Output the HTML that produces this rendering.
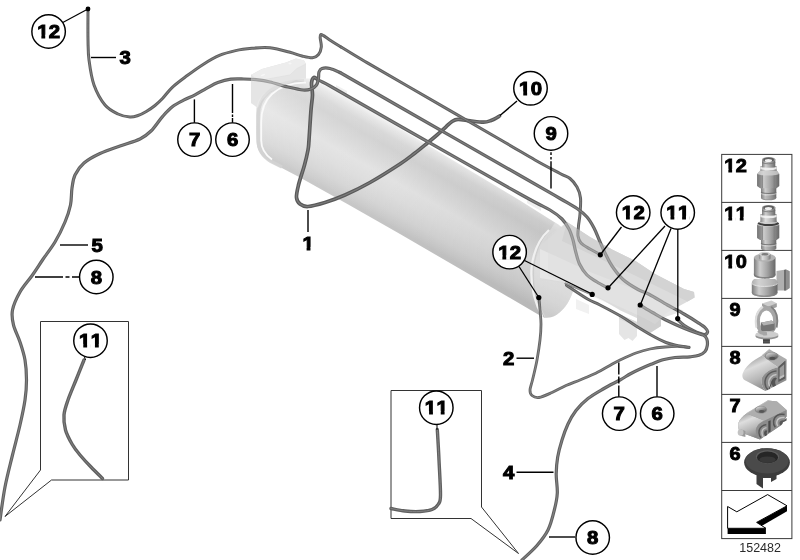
<!DOCTYPE html>
<html lang="en"><head><meta charset="utf-8"><title>152482</title>
<style>
html,body{margin:0;padding:0;background:#fff;}
body{width:800px;height:560px;overflow:hidden;font-family:"Liberation Sans",sans-serif;}
svg{display:block;filter:grayscale(1);}
.cb{font-family:"Liberation Sans",sans-serif;font-weight:700;font-size:18.5px;fill:#000;stroke:#000;stroke-width:1px;letter-spacing:0.3px;font-kerning:none;}
.lg{font-family:"Liberation Sans",sans-serif;font-weight:700;font-size:18.5px;fill:#000;stroke:#000;stroke-width:0.9px;letter-spacing:0.3px;font-kerning:none;}
.num{font-family:"Liberation Sans",sans-serif;font-size:12.5px;fill:#2a2a2a;}
</style></head><body>
<svg width="800" height="560" viewBox="0 0 800 560">
<g>
<defs>
<linearGradient id="gTank" gradientUnits="userSpaceOnUse" x1="400" y1="128" x2="356" y2="206">
<stop offset="0" stop-color="#f2f2f2"/>
<stop offset="0.05" stop-color="#e6e6e6"/>
<stop offset="0.14" stop-color="#d7d7d7"/>
<stop offset="0.25" stop-color="#d1d1d1"/>
<stop offset="0.42" stop-color="#dadada"/>
<stop offset="0.55" stop-color="#e2e2e2"/>
<stop offset="0.7" stop-color="#dddddd"/>
<stop offset="0.86" stop-color="#d4d4d4"/>
<stop offset="0.95" stop-color="#cbcbcb"/>
<stop offset="1" stop-color="#c5c5c5"/>
</linearGradient>
<linearGradient id="gTankR" gradientUnits="userSpaceOnUse" x1="380" y1="200" x2="560" y2="302">
<stop offset="0" stop-color="#000" stop-opacity="0"/>
<stop offset="1" stop-color="#000" stop-opacity="0.075"/>
</linearGradient>
<linearGradient id="gTankL" gradientUnits="userSpaceOnUse" x1="256" y1="100" x2="400" y2="182">
<stop offset="0" stop-color="#fff" stop-opacity="0.25"/>
<stop offset="0.35" stop-color="#fff" stop-opacity="0.1"/>
<stop offset="1" stop-color="#fff" stop-opacity="0"/>
</linearGradient>
<linearGradient id="gMetalH" x1="0" y1="0" x2="1" y2="0">
<stop offset="0" stop-color="#7c7c7c"/>
<stop offset="0.28" stop-color="#cecece"/>
<stop offset="0.6" stop-color="#a6a6a6"/>
<stop offset="1" stop-color="#686868"/>
</linearGradient>
<linearGradient id="gMetalH2" x1="0" y1="0" x2="1" y2="0">
<stop offset="0" stop-color="#8a8a8a"/>
<stop offset="0.32" stop-color="#dedede"/>
<stop offset="0.7" stop-color="#b4b4b4"/>
<stop offset="1" stop-color="#787878"/>
</linearGradient>
<linearGradient id="gClip" x1="0" y1="0" x2="0" y2="1">
<stop offset="0" stop-color="#c8c8c8"/>
<stop offset="1" stop-color="#8c8c8c"/>
</linearGradient>
<radialGradient id="gGrom" cx="0.45" cy="0.35" r="0.7">
<stop offset="0" stop-color="#555"/>
<stop offset="1" stop-color="#2a2a2a"/>
</radialGradient>
<linearGradient id="gBlk" gradientUnits="userSpaceOnUse" x1="748" y1="358" x2="762" y2="390">
<stop offset="0" stop-color="#9a9a9a"/><stop offset="0.3" stop-color="#dcdcdc"/><stop offset="0.65" stop-color="#b8b8b8"/><stop offset="1" stop-color="#8a8a8a"/>
</linearGradient>
<linearGradient id="gBlk7" gradientUnits="userSpaceOnUse" x1="742" y1="414" x2="752" y2="438">
<stop offset="0" stop-color="#9c9c9c"/><stop offset="0.3" stop-color="#dedede"/><stop offset="0.65" stop-color="#bababa"/><stop offset="1" stop-color="#8a8a8a"/>
</linearGradient>
<linearGradient id="gHole" x1="0" y1="0" x2="0.6" y2="1">
<stop offset="0" stop-color="#e6e6e6"/><stop offset="0.5" stop-color="#a0a0a0"/><stop offset="1" stop-color="#5a5a5a"/>
</linearGradient>
</defs>
<rect width="800" height="560" fill="#fff"/>
<!-- left bracket -->
<g>
<path d="M251,75 L262,69 L286,62.5 L296,58.5 L304,60.5 L306,64 L306,82 L296,80 L282,86 L270,92 L262,100 L258,108 L251,103 Z" fill="#e1e1e1"/>
<path d="M251,75 L262,69 L286,62.5 L296,58.5 L304,60.5 L306,64 L297,68.5 L290,75 L268,79 L258,81 Z" fill="#eeeeee"/>
<path d="M251,75 L258,81 L268,79 L290,75 L297,68.5 L306,64" fill="none" stroke="#d8d8d8" stroke-width="0.8"/>
<ellipse cx="263" cy="75" rx="2.4" ry="0.9" fill="#fff" transform="rotate(-18 263 75)"/><ellipse cx="290" cy="63.5" rx="1.6" ry="0.9" fill="#fff"/>
</g>
<!-- tank body -->
<path id="tankp" d="M312,78.5 L345,96.5 L385,119.5 L520,200.5 L555,222.5 C563,227 570,235 574,246 C578,258 577.5,275 574,288 C571,299 566,308 557,314.5 C552,318 546,318.5 542.5,317 L480,280.5 L400,234 L350,205.5 L300,177.5 L280,167 C269,162 260,156 257.5,147 C256,141 256,128 256,112 C256.5,101 262,92 272,86.5 C284,80.5 298,78 312,78.5 Z" fill="url(#gTank)"/>
<path d="M312,78.5 L345,96.5 L385,119.5 L420,140.5 L400,234 L350,205.5 L300,177.5 L280,167 C269,162 260,156 257.5,147 C256,141 256,128 256,112 C256.5,101 262,92 272,86.5 C284,80.5 298,78 312,78.5 Z" fill="url(#gTankL)"/>
<path d="M385,119.5 L520,200.5 L555,222.5 C563,227 570,235 574,246 C578,258 577.5,275 574,288 C571,299 566,308 557,314.5 C552,318 546,318.5 542.5,317 L480,280.5 L400,234 L350,205.5 Z" fill="url(#gTankR)"/>
<!-- left rim band -->
<path d="M304,80.6 C291,80.5 278,84.5 269,91.5 C261.5,98 258.2,106 258.2,116 L258.2,141 C258.2,150 262,156 271,161.5 L282,167" fill="none" stroke="#d3d3d3" stroke-width="3.4" stroke-opacity="0.9"/>
<!-- left rim highlight -->
<path d="M306,82.6 C293,82.2 280.5,86.5 272,94 C264.5,101 261.2,110 261.2,122 L261.2,140 C261.2,148 264,154 272,159.5" fill="none" stroke="#fafafa" stroke-width="1.8"/>
<!-- right seam ring -->
<path d="M549,230 C540,238 533.5,250 531.5,268 C530.5,284 533,300 542.5,317" fill="none" stroke="#f0f0f0" stroke-width="2.2"/>
<path d="M551.5,231 C543,239 536,251 534,268 C533,284 536,301 545,317.5" fill="none" stroke="#cbcbcb" stroke-width="1.2"/>
<!-- small clips on tank top -->
<path d="M336,85 L347,91 L347,97 L336,91 Z" fill="#f0f0f0"/>
<path d="M527,197 L541,205 L541,211 L527,203 Z" fill="#efefef"/>
<!-- right bracket -->
<g>
<path d="M551,229 C542,238 536,251 534,268 C533,284 536,301 545,317.5 C549,318.5 553,317.5 557,314.5 C566,308 571,299 574,288 C577.5,275 578,258 574,246 C570,235 563,227 555,222.5 Z" fill="#fff" fill-opacity="0.28"/>
<path d="M540,246 L567,222 L590,237 L613,250 L635.5,261 L655,274 L684,289 L694,292 L694.5,297.5 L687.5,301.5 L668,312 L661,317.5 L661,326 L650,333 L640,328 L640,319.5 L620.5,310.5 L602.5,300 L583,291 L566,283.5 L552,281 L540,280 Z" fill="#dadada" fill-opacity="0.95"/>
<path d="M567,222 L590,237 L613,250 L635.5,261 L655,274 L684,289 L694,292 L694.5,297.5 L687.5,301.5 L652,284 L636,276 L590,254 L562,241 Z" fill="#cdcdcd"/>
<path d="M540,249 L562,259 L590,272 L636,290 L652,296 L684,311 L668,316 L655,321 L640,316 L600,298 L564,282 L540,278 Z" fill="#e6e6e6"/>
<path d="M637,305.5 L661,316.5 L661,326 L650,333 L637,327 Z" fill="#cfcfcf"/>
<path d="M576,299 L589,305 L589,314 L576,309 Z" fill="#f1f1f1"/>
<path d="M619,314 L637,322 L637,336 L632.5,341 L628.5,338 L624.5,340 L619,334 Z" fill="#e5e5e5"/>
<path d="M619,314 L637,322 L637,327 L619,319 Z" fill="#dadada"/>
</g>
<path d="M499.5,116.0 C498.1,116.8 493.7,119.5 491.0,120.5 C488.3,121.5 487.0,122.2 483.5,122.2 C480.0,122.2 474.2,121.3 470.0,120.8 C465.8,120.3 461.0,119.2 458.0,119.3 C455.0,119.4 454.0,120.2 452.0,121.5 C450.0,122.8 448.5,124.5 446.0,126.8 C443.5,129.1 440.0,132.4 437.0,135.0 C434.0,137.6 431.7,139.5 428.0,142.5 C424.3,145.5 419.7,149.4 415.0,153.0 C410.3,156.6 407.5,159.1 400.0,164.0 C392.5,168.9 379.2,177.3 370.0,182.5 C360.8,187.7 352.5,191.7 345.0,195.0 C337.5,198.3 331.2,200.6 325.0,202.5 C318.8,204.4 312.2,206.2 308.0,206.5 C303.8,206.8 301.9,205.5 300.0,204.0 C298.1,202.5 296.8,200.7 296.5,197.5 C296.2,194.3 297.2,190.4 298.5,185.0 C299.8,179.6 302.9,170.8 304.5,165.0 C306.1,159.2 307.2,154.2 308.0,150.0 C308.8,145.8 308.5,146.7 309.0,140.0 C309.5,133.3 310.4,117.5 311.0,110.0 C311.6,102.5 312.4,99.5 312.5,95.0 C312.6,90.5 311.2,85.9 311.5,83.0 C311.8,80.1 312.9,78.0 314.0,77.5 C315.1,77.0 317.3,79.6 318.0,80.0" fill="none" stroke="#5a5a5a" stroke-width="3.7" stroke-linecap="round" stroke-linejoin="round"/>
<path d="M499.5,116.0 C498.1,116.8 493.7,119.5 491.0,120.5 C488.3,121.5 487.0,122.2 483.5,122.2 C480.0,122.2 474.2,121.3 470.0,120.8 C465.8,120.3 461.0,119.2 458.0,119.3 C455.0,119.4 454.0,120.2 452.0,121.5 C450.0,122.8 448.5,124.5 446.0,126.8 C443.5,129.1 440.0,132.4 437.0,135.0 C434.0,137.6 431.7,139.5 428.0,142.5 C424.3,145.5 419.7,149.4 415.0,153.0 C410.3,156.6 407.5,159.1 400.0,164.0 C392.5,168.9 379.2,177.3 370.0,182.5 C360.8,187.7 352.5,191.7 345.0,195.0 C337.5,198.3 331.2,200.6 325.0,202.5 C318.8,204.4 312.2,206.2 308.0,206.5 C303.8,206.8 301.9,205.5 300.0,204.0 C298.1,202.5 296.8,200.7 296.5,197.5 C296.2,194.3 297.2,190.4 298.5,185.0 C299.8,179.6 302.9,170.8 304.5,165.0 C306.1,159.2 307.2,154.2 308.0,150.0 C308.8,145.8 308.5,146.7 309.0,140.0 C309.5,133.3 310.4,117.5 311.0,110.0 C311.6,102.5 312.4,99.5 312.5,95.0 C312.6,90.5 311.2,85.9 311.5,83.0 C311.8,80.1 312.9,78.0 314.0,77.5 C315.1,77.0 317.3,79.6 318.0,80.0" fill="none" stroke="#7c7c7c" stroke-width="1.2" stroke-linecap="round" stroke-linejoin="round"/>
<path d="M88.0,10.0 C88.0,15.0 87.8,31.7 88.0,40.0 C88.2,48.3 88.0,52.5 89.0,60.0 C90.0,67.5 91.3,77.5 94.0,85.0 C96.7,92.5 101.0,100.2 105.0,105.0 C109.0,109.8 113.8,112.0 118.0,114.0 C122.2,116.0 126.7,116.8 130.0,117.0 C133.3,117.2 135.3,116.4 138.0,115.5 C140.7,114.6 143.5,113.2 146.3,111.5 C149.1,109.8 152.3,107.7 155.0,105.5 C157.7,103.3 159.6,101.5 162.5,98.5 C165.4,95.5 168.2,91.1 172.3,87.3 C176.4,83.5 181.8,79.6 186.9,75.8 C192.0,72.0 197.7,67.8 203.1,64.4 C208.5,61.0 214.0,57.7 219.4,55.4 C224.8,53.1 230.2,51.8 235.6,50.6 C241.0,49.4 246.3,48.8 252.0,48.3 C257.7,47.8 263.7,47.1 270.0,47.8 C276.3,48.5 284.7,50.9 290.0,52.3 C295.3,53.7 298.2,55.1 302.0,56.0 C305.8,56.9 309.8,58.0 312.5,57.8 C315.2,57.5 317.0,56.3 318.5,54.5 C320.0,52.7 321.0,49.8 321.3,47.0 C321.6,44.2 320.3,40.1 320.2,38.0 C320.1,35.9 320.2,35.0 320.8,34.6 C321.4,34.2 322.1,34.8 323.5,35.6 C324.9,36.4 326.1,37.6 329.0,39.5 C331.9,41.4 339.0,45.8 341.0,47.0" fill="none" stroke="#606060" stroke-width="3.0" stroke-linecap="round" stroke-linejoin="round"/>
<path d="M88.0,10.0 C88.0,15.0 87.8,31.7 88.0,40.0 C88.2,48.3 88.0,52.5 89.0,60.0 C90.0,67.5 91.3,77.5 94.0,85.0 C96.7,92.5 101.0,100.2 105.0,105.0 C109.0,109.8 113.8,112.0 118.0,114.0 C122.2,116.0 126.7,116.8 130.0,117.0 C133.3,117.2 135.3,116.4 138.0,115.5 C140.7,114.6 143.5,113.2 146.3,111.5 C149.1,109.8 152.3,107.7 155.0,105.5 C157.7,103.3 159.6,101.5 162.5,98.5 C165.4,95.5 168.2,91.1 172.3,87.3 C176.4,83.5 181.8,79.6 186.9,75.8 C192.0,72.0 197.7,67.8 203.1,64.4 C208.5,61.0 214.0,57.7 219.4,55.4 C224.8,53.1 230.2,51.8 235.6,50.6 C241.0,49.4 246.3,48.8 252.0,48.3 C257.7,47.8 263.7,47.1 270.0,47.8 C276.3,48.5 284.7,50.9 290.0,52.3 C295.3,53.7 298.2,55.1 302.0,56.0 C305.8,56.9 309.8,58.0 312.5,57.8 C315.2,57.5 317.0,56.3 318.5,54.5 C320.0,52.7 321.0,49.8 321.3,47.0 C321.6,44.2 320.3,40.1 320.2,38.0 C320.1,35.9 320.2,35.0 320.8,34.6 C321.4,34.2 322.1,34.8 323.5,35.6 C324.9,36.4 326.1,37.6 329.0,39.5 C331.9,41.4 339.0,45.8 341.0,47.0" fill="none" stroke="#828282" stroke-width="1.0" stroke-linecap="round" stroke-linejoin="round"/>
<path d="M341.0,47.0 C345.0,49.4 353.5,54.8 365.0,61.5 C376.5,68.2 387.5,74.5 410.0,87.5 C432.5,100.5 479.2,127.4 500.0,139.5 C520.8,151.6 525.0,154.3 535.0,160.0 C545.0,165.7 554.2,170.4 560.0,173.5 C565.8,176.6 567.2,176.2 570.0,178.5 C572.8,180.8 575.2,183.8 577.0,187.0 C578.8,190.2 580.0,193.5 580.5,198.0 C581.0,202.5 580.3,209.3 580.0,214.0 C579.7,218.7 578.8,222.3 578.5,226.0 C578.2,229.7 577.6,233.2 578.0,236.0 C578.4,238.8 579.0,240.8 581.0,243.0 C583.0,245.2 586.8,247.1 590.0,249.0 C593.2,250.9 598.3,253.6 600.0,254.5" fill="none" stroke="#606060" stroke-width="3.0" stroke-linecap="round" stroke-linejoin="round"/>
<path d="M341.0,47.0 C345.0,49.4 353.5,54.8 365.0,61.5 C376.5,68.2 387.5,74.5 410.0,87.5 C432.5,100.5 479.2,127.4 500.0,139.5 C520.8,151.6 525.0,154.3 535.0,160.0 C545.0,165.7 554.2,170.4 560.0,173.5 C565.8,176.6 567.2,176.2 570.0,178.5 C572.8,180.8 575.2,183.8 577.0,187.0 C578.8,190.2 580.0,193.5 580.5,198.0 C581.0,202.5 580.3,209.3 580.0,214.0 C579.7,218.7 578.8,222.3 578.5,226.0 C578.2,229.7 577.6,233.2 578.0,236.0 C578.4,238.8 579.0,240.8 581.0,243.0 C583.0,245.2 586.8,247.1 590.0,249.0 C593.2,250.9 598.3,253.6 600.0,254.5" fill="none" stroke="#828282" stroke-width="1.0" stroke-linecap="round" stroke-linejoin="round"/>
<path d="M318.0,80.0 C320.0,81.0 316.3,78.3 330.0,86.0 C343.7,93.7 368.3,108.0 400.0,126.0 C431.7,144.0 495.0,180.0 520.0,194.0 C545.0,208.0 543.0,205.8 550.0,210.0 C557.0,214.2 558.8,215.8 562.0,219.0 C565.2,222.2 567.2,225.5 569.0,229.0 C570.8,232.5 571.9,236.3 573.0,240.0 C574.1,243.7 574.4,247.0 575.5,251.0 C576.6,255.0 577.6,260.0 579.5,264.0 C581.4,268.0 584.1,272.0 587.0,275.0 C589.9,278.0 593.7,279.9 597.0,282.0 C600.3,284.1 605.3,286.6 607.0,287.5" fill="none" stroke="#606060" stroke-width="3.2" stroke-linecap="round" stroke-linejoin="round"/>
<path d="M318.0,80.0 C320.0,81.0 316.3,78.3 330.0,86.0 C343.7,93.7 368.3,108.0 400.0,126.0 C431.7,144.0 495.0,180.0 520.0,194.0 C545.0,208.0 543.0,205.8 550.0,210.0 C557.0,214.2 558.8,215.8 562.0,219.0 C565.2,222.2 567.2,225.5 569.0,229.0 C570.8,232.5 571.9,236.3 573.0,240.0 C574.1,243.7 574.4,247.0 575.5,251.0 C576.6,255.0 577.6,260.0 579.5,264.0 C581.4,268.0 584.1,272.0 587.0,275.0 C589.9,278.0 593.7,279.9 597.0,282.0 C600.3,284.1 605.3,286.6 607.0,287.5" fill="none" stroke="#828282" stroke-width="1.1" stroke-linecap="round" stroke-linejoin="round"/>
<path d="M0.0,520.0 C0.8,514.5 2.9,497.8 5.0,487.0 C7.1,476.2 10.0,465.3 12.5,455.0 C15.0,444.7 17.9,434.2 20.0,425.0 C22.1,415.8 23.9,407.5 25.0,400.0 C26.1,392.5 26.5,386.7 26.5,380.0 C26.5,373.3 26.1,366.3 25.0,360.0 C23.9,353.7 21.9,347.8 20.0,342.0 C18.1,336.2 14.8,330.3 13.5,325.0 C12.2,319.7 11.4,315.5 12.5,310.0 C13.6,304.5 16.7,297.8 20.0,292.0 C23.3,286.2 28.8,280.3 32.5,275.0 C36.2,269.7 38.8,265.5 42.5,260.0 C46.2,254.5 51.2,248.3 55.0,242.0 C58.8,235.7 62.4,228.2 65.0,222.0 C67.6,215.8 69.3,210.7 70.5,205.0 C71.7,199.3 71.2,193.0 72.0,188.0 C72.8,183.0 73.0,179.2 75.0,175.0 C77.0,170.8 79.8,166.6 84.0,163.0 C88.2,159.4 94.0,156.3 100.0,153.5 C106.0,150.7 113.3,148.4 120.0,146.0 C126.7,143.6 134.8,141.5 140.0,139.0 C145.2,136.5 147.2,134.7 151.0,131.0 C154.8,127.3 158.9,120.6 162.5,116.6 C166.1,112.6 168.8,109.5 172.3,106.8 C175.8,104.1 179.8,102.2 183.6,100.2 C187.4,98.2 191.2,96.9 195.0,94.9 C198.8,92.9 202.6,90.5 206.4,88.4 C210.2,86.4 213.7,84.1 217.8,82.6 C221.9,81.1 226.5,79.8 230.8,79.2 C235.1,78.6 239.3,78.9 243.8,79.0 C248.3,79.1 253.6,79.3 258.0,79.8 C262.4,80.3 265.0,80.8 270.0,82.0 C275.0,83.2 282.5,85.7 288.0,87.0 C293.5,88.3 299.2,89.7 303.0,90.0 C306.8,90.3 308.8,89.8 311.0,89.0 C313.2,88.2 315.2,86.8 316.5,85.0 C317.8,83.2 318.1,80.2 318.5,78.0 C318.9,75.8 318.4,73.6 319.0,72.0 C319.6,70.4 320.2,69.1 322.0,68.5 C323.8,67.9 327.0,67.8 330.0,68.5 C333.0,69.2 338.3,71.8 340.0,72.5" fill="none" stroke="#606060" stroke-width="3.2" stroke-linecap="round" stroke-linejoin="round"/>
<path d="M0.0,520.0 C0.8,514.5 2.9,497.8 5.0,487.0 C7.1,476.2 10.0,465.3 12.5,455.0 C15.0,444.7 17.9,434.2 20.0,425.0 C22.1,415.8 23.9,407.5 25.0,400.0 C26.1,392.5 26.5,386.7 26.5,380.0 C26.5,373.3 26.1,366.3 25.0,360.0 C23.9,353.7 21.9,347.8 20.0,342.0 C18.1,336.2 14.8,330.3 13.5,325.0 C12.2,319.7 11.4,315.5 12.5,310.0 C13.6,304.5 16.7,297.8 20.0,292.0 C23.3,286.2 28.8,280.3 32.5,275.0 C36.2,269.7 38.8,265.5 42.5,260.0 C46.2,254.5 51.2,248.3 55.0,242.0 C58.8,235.7 62.4,228.2 65.0,222.0 C67.6,215.8 69.3,210.7 70.5,205.0 C71.7,199.3 71.2,193.0 72.0,188.0 C72.8,183.0 73.0,179.2 75.0,175.0 C77.0,170.8 79.8,166.6 84.0,163.0 C88.2,159.4 94.0,156.3 100.0,153.5 C106.0,150.7 113.3,148.4 120.0,146.0 C126.7,143.6 134.8,141.5 140.0,139.0 C145.2,136.5 147.2,134.7 151.0,131.0 C154.8,127.3 158.9,120.6 162.5,116.6 C166.1,112.6 168.8,109.5 172.3,106.8 C175.8,104.1 179.8,102.2 183.6,100.2 C187.4,98.2 191.2,96.9 195.0,94.9 C198.8,92.9 202.6,90.5 206.4,88.4 C210.2,86.4 213.7,84.1 217.8,82.6 C221.9,81.1 226.5,79.8 230.8,79.2 C235.1,78.6 239.3,78.9 243.8,79.0 C248.3,79.1 253.6,79.3 258.0,79.8 C262.4,80.3 265.0,80.8 270.0,82.0 C275.0,83.2 282.5,85.7 288.0,87.0 C293.5,88.3 299.2,89.7 303.0,90.0 C306.8,90.3 308.8,89.8 311.0,89.0 C313.2,88.2 315.2,86.8 316.5,85.0 C317.8,83.2 318.1,80.2 318.5,78.0 C318.9,75.8 318.4,73.6 319.0,72.0 C319.6,70.4 320.2,69.1 322.0,68.5 C323.8,67.9 327.0,67.8 330.0,68.5 C333.0,69.2 338.3,71.8 340.0,72.5" fill="none" stroke="#828282" stroke-width="1.1" stroke-linecap="round" stroke-linejoin="round"/>
<path d="M340.0,72.5 C350.0,78.2 370.0,89.8 400.0,107.0 C430.0,124.2 493.3,160.2 520.0,175.5 C546.7,190.8 550.5,193.0 560.0,198.5 C569.5,204.0 572.5,205.4 577.0,208.5 C581.5,211.6 584.2,213.8 587.0,217.0 C589.8,220.2 592.0,224.2 594.0,228.0 C596.0,231.8 597.2,235.3 599.0,239.5 C600.8,243.7 602.8,248.6 605.0,253.0 C607.2,257.4 609.0,261.6 612.0,266.0 C615.0,270.4 618.7,275.6 623.0,279.5 C627.3,283.4 633.6,287.0 638.0,289.5 C642.4,292.0 644.6,291.9 649.5,294.5 C654.4,297.1 661.8,301.8 667.5,305.0 C673.2,308.2 679.0,311.1 684.0,314.0 C689.0,316.9 694.0,320.0 697.5,322.3 C701.0,324.6 703.3,326.0 705.0,327.6 C706.7,329.2 707.8,330.6 707.6,331.8 C707.4,333.0 706.4,334.8 704.0,334.6 C701.6,334.4 696.3,332.1 693.0,330.5 C689.7,328.9 686.6,327.2 684.0,325.3 C681.4,323.4 678.6,320.3 677.5,319.3" fill="none" stroke="#606060" stroke-width="3.2" stroke-linecap="round" stroke-linejoin="round"/>
<path d="M340.0,72.5 C350.0,78.2 370.0,89.8 400.0,107.0 C430.0,124.2 493.3,160.2 520.0,175.5 C546.7,190.8 550.5,193.0 560.0,198.5 C569.5,204.0 572.5,205.4 577.0,208.5 C581.5,211.6 584.2,213.8 587.0,217.0 C589.8,220.2 592.0,224.2 594.0,228.0 C596.0,231.8 597.2,235.3 599.0,239.5 C600.8,243.7 602.8,248.6 605.0,253.0 C607.2,257.4 609.0,261.6 612.0,266.0 C615.0,270.4 618.7,275.6 623.0,279.5 C627.3,283.4 633.6,287.0 638.0,289.5 C642.4,292.0 644.6,291.9 649.5,294.5 C654.4,297.1 661.8,301.8 667.5,305.0 C673.2,308.2 679.0,311.1 684.0,314.0 C689.0,316.9 694.0,320.0 697.5,322.3 C701.0,324.6 703.3,326.0 705.0,327.6 C706.7,329.2 707.8,330.6 707.6,331.8 C707.4,333.0 706.4,334.8 704.0,334.6 C701.6,334.4 696.3,332.1 693.0,330.5 C689.7,328.9 686.6,327.2 684.0,325.3 C681.4,323.4 678.6,320.3 677.5,319.3" fill="none" stroke="#828282" stroke-width="1.1" stroke-linecap="round" stroke-linejoin="round"/>
<path d="M539.0,298.0 C539.2,300.0 539.7,305.7 540.0,310.0 C540.3,314.3 541.0,319.0 541.0,324.0 C541.0,329.0 540.7,334.0 540.0,340.0 C539.3,346.0 538.2,353.3 537.0,360.0 C535.8,366.7 533.7,375.0 532.5,380.0 C531.3,385.0 530.1,387.4 530.0,390.0 C529.9,392.6 530.5,394.2 532.0,395.5 C533.5,396.8 535.7,398.0 539.0,397.5 C542.3,397.0 547.5,394.5 552.0,392.5 C556.5,390.5 561.3,387.6 566.0,385.5 C570.7,383.4 575.3,381.9 580.0,380.0 C584.7,378.1 589.3,376.2 594.0,374.0 C598.7,371.8 603.7,368.8 608.0,366.5 C612.3,364.2 615.3,362.2 620.0,360.0 C624.7,357.8 631.0,354.8 636.0,353.0 C641.0,351.2 645.2,350.0 650.0,349.0 C654.8,348.0 660.0,347.4 665.0,347.0 C670.0,346.6 676.0,346.4 680.0,346.5 C684.0,346.6 687.5,347.3 689.0,347.5" fill="none" stroke="#646464" stroke-width="2.8" stroke-linecap="round" stroke-linejoin="round"/>
<path d="M539.0,298.0 C539.2,300.0 539.7,305.7 540.0,310.0 C540.3,314.3 541.0,319.0 541.0,324.0 C541.0,329.0 540.7,334.0 540.0,340.0 C539.3,346.0 538.2,353.3 537.0,360.0 C535.8,366.7 533.7,375.0 532.5,380.0 C531.3,385.0 530.1,387.4 530.0,390.0 C529.9,392.6 530.5,394.2 532.0,395.5 C533.5,396.8 535.7,398.0 539.0,397.5 C542.3,397.0 547.5,394.5 552.0,392.5 C556.5,390.5 561.3,387.6 566.0,385.5 C570.7,383.4 575.3,381.9 580.0,380.0 C584.7,378.1 589.3,376.2 594.0,374.0 C598.7,371.8 603.7,368.8 608.0,366.5 C612.3,364.2 615.3,362.2 620.0,360.0 C624.7,357.8 631.0,354.8 636.0,353.0 C641.0,351.2 645.2,350.0 650.0,349.0 C654.8,348.0 660.0,347.4 665.0,347.0 C670.0,346.6 676.0,346.4 680.0,346.5 C684.0,346.6 687.5,347.3 689.0,347.5" fill="none" stroke="#8a8a8a" stroke-width="0.9" stroke-linecap="round" stroke-linejoin="round"/>
<path d="M689.0,347.3 C687.2,347.0 681.8,346.4 678.0,345.6 C674.2,344.8 670.5,344.3 666.0,342.5 C661.5,340.7 656.0,337.8 651.0,335.0 C646.0,332.2 641.0,329.1 636.0,326.0 C631.0,322.9 627.0,319.8 621.0,316.3 C615.0,312.8 605.6,307.9 600.0,305.0 C594.4,302.1 593.1,302.3 587.5,299.0 C581.9,295.7 570.0,287.6 566.5,285.3" fill="none" stroke="#606060" stroke-width="3.0" stroke-linecap="round" stroke-linejoin="round"/>
<path d="M689.0,347.3 C687.2,347.0 681.8,346.4 678.0,345.6 C674.2,344.8 670.5,344.3 666.0,342.5 C661.5,340.7 656.0,337.8 651.0,335.0 C646.0,332.2 641.0,329.1 636.0,326.0 C631.0,322.9 627.0,319.8 621.0,316.3 C615.0,312.8 605.6,307.9 600.0,305.0 C594.4,302.1 593.1,302.3 587.5,299.0 C581.9,295.7 570.0,287.6 566.5,285.3" fill="none" stroke="#828282" stroke-width="1.0" stroke-linecap="round" stroke-linejoin="round"/>
<path d="M640.0,305.0 C642.1,306.2 647.9,309.9 652.5,312.5 C657.1,315.1 662.2,318.2 667.5,320.8 C672.8,323.4 679.2,326.3 684.0,328.3 C688.8,330.3 692.8,331.7 696.0,332.8 C699.2,333.9 701.7,334.2 703.5,335.2 C705.3,336.2 706.2,337.3 706.8,339.0 C707.4,340.7 707.6,343.4 707.3,345.5 C707.0,347.6 706.4,349.9 705.0,351.5 C703.6,353.1 701.5,354.4 699.0,355.3 C696.5,356.2 694.0,356.4 690.0,356.8 C686.0,357.2 679.5,357.0 675.0,357.5 C670.5,358.0 667.0,358.7 663.0,359.8 C659.0,360.9 655.0,362.7 651.0,364.3 C647.0,365.9 642.5,367.9 639.0,369.5 C635.5,371.1 633.2,372.2 630.0,374.0 C626.8,375.8 624.3,377.6 620.0,380.0 C615.7,382.4 609.3,385.4 604.0,388.5 C598.7,391.6 592.7,394.8 588.0,398.5 C583.3,402.2 579.3,406.2 576.0,410.5 C572.7,414.8 570.3,419.1 568.0,424.0 C565.7,428.9 563.7,434.5 562.0,440.0 C560.3,445.5 558.7,451.3 557.7,457.0 C556.7,462.7 556.3,468.0 556.2,474.0 C556.1,480.0 557.6,486.9 557.3,493.0 C557.0,499.1 555.8,504.3 554.2,510.5 C552.7,516.7 550.9,524.2 548.0,530.0 C545.1,535.8 541.3,540.5 537.0,545.5 C532.7,550.5 524.5,557.6 522.0,560.0" fill="none" stroke="#606060" stroke-width="3.2" stroke-linecap="round" stroke-linejoin="round"/>
<path d="M640.0,305.0 C642.1,306.2 647.9,309.9 652.5,312.5 C657.1,315.1 662.2,318.2 667.5,320.8 C672.8,323.4 679.2,326.3 684.0,328.3 C688.8,330.3 692.8,331.7 696.0,332.8 C699.2,333.9 701.7,334.2 703.5,335.2 C705.3,336.2 706.2,337.3 706.8,339.0 C707.4,340.7 707.6,343.4 707.3,345.5 C707.0,347.6 706.4,349.9 705.0,351.5 C703.6,353.1 701.5,354.4 699.0,355.3 C696.5,356.2 694.0,356.4 690.0,356.8 C686.0,357.2 679.5,357.0 675.0,357.5 C670.5,358.0 667.0,358.7 663.0,359.8 C659.0,360.9 655.0,362.7 651.0,364.3 C647.0,365.9 642.5,367.9 639.0,369.5 C635.5,371.1 633.2,372.2 630.0,374.0 C626.8,375.8 624.3,377.6 620.0,380.0 C615.7,382.4 609.3,385.4 604.0,388.5 C598.7,391.6 592.7,394.8 588.0,398.5 C583.3,402.2 579.3,406.2 576.0,410.5 C572.7,414.8 570.3,419.1 568.0,424.0 C565.7,428.9 563.7,434.5 562.0,440.0 C560.3,445.5 558.7,451.3 557.7,457.0 C556.7,462.7 556.3,468.0 556.2,474.0 C556.1,480.0 557.6,486.9 557.3,493.0 C557.0,499.1 555.8,504.3 554.2,510.5 C552.7,516.7 550.9,524.2 548.0,530.0 C545.1,535.8 541.3,540.5 537.0,545.5 C532.7,550.5 524.5,557.6 522.0,560.0" fill="none" stroke="#828282" stroke-width="1.1" stroke-linecap="round" stroke-linejoin="round"/>
<path d="M565.5,283.5 C567.6,284.3 573.6,286.7 578.0,288.5 C582.4,290.3 589.7,293.5 592.0,294.5" fill="none" stroke="#606060" stroke-width="2.0" stroke-linecap="round" stroke-linejoin="round"/>
<path d="M565.5,283.5 C567.6,284.3 573.6,286.7 578.0,288.5 C582.4,290.3 589.7,293.5 592.0,294.5" fill="none" stroke="#828282" stroke-width="0.6" stroke-linecap="round" stroke-linejoin="round"/>
<path d="M548,236 L567,222 L590,237 L613,250 L635.5,261 L655,274 L684,289 L694,292 L694.5,297.5 L687.5,301.5 L668,312 L655,324 L640,316 L600,300 L564,283 L548,276 Z" fill="#dcdcdc" fill-opacity="0.38"/>
<path d="M251,75 L262,69 L286,62.5 L296,58.5 L304,60.5 L306,64 L306,82 L296,80 L282,86 L270,92 L262,100 L258,108 L251,103 Z" fill="#ececec" fill-opacity="0.45"/>
<path d="M40.5,321.5 H128.5 V480 H51.5 L5,516.5 L40.5,470 Z" fill="#fff" fill-opacity="0" stroke="#333" stroke-width="1"/>
<path d="M391,390.5 H481.5 V507 L518.5,553.5 L471,518.5 H391 Z" fill="none" stroke="#333" stroke-width="1"/>
<path d="M84.0,360.0 C82.7,363.3 78.7,373.3 76.0,380.0 C73.3,386.7 70.0,394.2 68.0,400.0 C66.0,405.8 64.4,410.0 64.0,415.0 C63.6,420.0 64.2,425.2 65.5,430.0 C66.8,434.8 69.6,439.8 72.0,444.0 C74.4,448.2 76.8,451.2 80.0,455.0 C83.2,458.8 87.2,463.1 91.0,467.0 C94.8,470.9 100.6,476.6 102.5,478.5" fill="none" stroke="#606060" stroke-width="3.4" stroke-linecap="round" stroke-linejoin="round"/>
<path d="M84.0,360.0 C82.7,363.3 78.7,373.3 76.0,380.0 C73.3,386.7 70.0,394.2 68.0,400.0 C66.0,405.8 64.4,410.0 64.0,415.0 C63.6,420.0 64.2,425.2 65.5,430.0 C66.8,434.8 69.6,439.8 72.0,444.0 C74.4,448.2 76.8,451.2 80.0,455.0 C83.2,458.8 87.2,463.1 91.0,467.0 C94.8,470.9 100.6,476.6 102.5,478.5" fill="none" stroke="#828282" stroke-width="1.0" stroke-linecap="round" stroke-linejoin="round"/>
<path d="M437.3,429.5 C437.6,434.6 438.5,449.1 439.0,460.0 C439.5,470.9 440.6,487.7 440.5,495.0 C440.4,502.3 439.9,501.6 438.5,504.0 C437.1,506.4 435.1,508.2 432.0,509.5 C428.9,510.8 424.5,511.2 420.0,511.5 C415.5,511.8 409.8,511.5 405.0,511.0 C400.2,510.5 393.3,508.9 391.0,508.5" fill="none" stroke="#606060" stroke-width="3.4" stroke-linecap="round" stroke-linejoin="round"/>
<path d="M437.3,429.5 C437.6,434.6 438.5,449.1 439.0,460.0 C439.5,470.9 440.6,487.7 440.5,495.0 C440.4,502.3 439.9,501.6 438.5,504.0 C437.1,506.4 435.1,508.2 432.0,509.5 C428.9,510.8 424.5,511.2 420.0,511.5 C415.5,511.8 409.8,511.5 405.0,511.0 C400.2,510.5 393.3,508.9 391.0,508.5" fill="none" stroke="#828282" stroke-width="1.0" stroke-linecap="round" stroke-linejoin="round"/>
<line x1="60.0" y1="24.0" x2="87.0" y2="9.5" stroke="#000" stroke-width="1.2"/>
<circle cx="88.0" cy="9.0" r="2.4" fill="#000"/>
<line x1="91.0" y1="57.5" x2="116.0" y2="57.5" stroke="#000" stroke-width="1.4"/>
<line x1="194.4" y1="99.4" x2="194.4" y2="123.0" stroke="#000" stroke-width="1.4"/>
<line x1="232.5" y1="84.0" x2="232.5" y2="123.0" stroke="#000" stroke-width="1.4" stroke-dasharray="29 1.4 2.5 1.2 5"/>
<line x1="60.0" y1="245.0" x2="88.0" y2="245.0" stroke="#000" stroke-width="1.4"/>
<line x1="35.0" y1="277.0" x2="79.0" y2="277.0" stroke="#000" stroke-width="1.4" stroke-dasharray="28 2.5 4 2.5"/>
<line x1="308.0" y1="210.0" x2="308.0" y2="232.0" stroke="#000" stroke-width="1.4"/>
<line x1="500.0" y1="115.5" x2="517.0" y2="101.0" stroke="#000" stroke-width="1.4"/>
<line x1="551.0" y1="152.2" x2="551.0" y2="188.5" stroke="#000" stroke-width="1.4" stroke-dasharray="2.8 1.9 2.5 1.9 40"/>
<line x1="516.5" y1="358.2" x2="534.0" y2="358.2" stroke="#000" stroke-width="1.4"/>
<line x1="516.5" y1="472.3" x2="553.5" y2="472.3" stroke="#000" stroke-width="1.4"/>
<line x1="549.0" y1="537.0" x2="575.0" y2="537.0" stroke="#000" stroke-width="1.4"/>
<line x1="618.8" y1="362.5" x2="618.8" y2="397.0" stroke="#000" stroke-width="1.4" stroke-dasharray="12 2 7 2 20"/>
<line x1="657.0" y1="366.0" x2="657.0" y2="397.0" stroke="#000" stroke-width="1.4"/>
<line x1="621.5" y1="227.0" x2="600.5" y2="254.5" stroke="#000" stroke-width="1.3"/>
<line x1="665.0" y1="226.0" x2="608.5" y2="287.5" stroke="#000" stroke-width="1.3"/>
<line x1="671.0" y1="228.5" x2="640.5" y2="304.5" stroke="#000" stroke-width="1.3"/>
<line x1="677.8" y1="229.0" x2="677.8" y2="318.0" stroke="#000" stroke-width="1.3"/>
<line x1="519.0" y1="266.5" x2="538.5" y2="297.0" stroke="#000" stroke-width="1.3"/>
<line x1="524.5" y1="260.5" x2="592.0" y2="294.0" stroke="#000" stroke-width="1.3"/>
<circle cx="600.3" cy="254.8" r="2.6" fill="#000"/>
<circle cx="608.0" cy="287.8" r="2.6" fill="#000"/>
<circle cx="640.2" cy="305.0" r="2.6" fill="#000"/>
<circle cx="677.7" cy="318.6" r="2.6" fill="#000"/>
<circle cx="592.2" cy="294.4" r="2.6" fill="#000"/>
<circle cx="538.8" cy="297.6" r="2.6" fill="#000"/>
<line x1="84.5" y1="357.0" x2="85.5" y2="360.0" stroke="#000" stroke-width="1.0"/>
<line x1="437.0" y1="424.0" x2="437.0" y2="430.0" stroke="#000" stroke-width="1.0"/>
<circle cx="48.6" cy="31.5" r="16.75" fill="#fff" stroke="#000" stroke-width="1.45"/><g transform="translate(48.8,38.2) scale(1.1,1)"><text class="cb" text-anchor="middle">12</text><rect x="-10.49" y="-3.45" width="3.74" height="4.5" fill="#fff"/><rect x="-3.25" y="-3.45" width="3.3" height="4.5" fill="#fff"/></g>
<circle cx="194.5" cy="139.6" r="16.75" fill="#fff" stroke="#000" stroke-width="1.45"/><g transform="translate(194.7,146.3) scale(1.1,1)"><text class="cb" text-anchor="middle">7</text></g>
<circle cx="232.5" cy="139.6" r="16.75" fill="#fff" stroke="#000" stroke-width="1.45"/><g transform="translate(232.7,146.3) scale(1.1,1)"><text class="cb" text-anchor="middle">6</text></g>
<circle cx="96.3" cy="277.0" r="16.75" fill="#fff" stroke="#000" stroke-width="1.45"/><g transform="translate(96.5,283.7) scale(1.1,1)"><text class="cb" text-anchor="middle">8</text></g>
<circle cx="90.5" cy="340.7" r="16.75" fill="#fff" stroke="#000" stroke-width="1.45"/><g transform="translate(90.7,347.4) scale(1.1,1)"><text class="cb" text-anchor="middle">11</text><rect x="-10.49" y="-3.45" width="3.74" height="4.5" fill="#fff"/><rect x="-3.25" y="-3.45" width="3.3" height="4.5" fill="#fff"/><rect x="0.10" y="-3.45" width="3.74" height="4.5" fill="#fff"/><rect x="7.34" y="-3.45" width="3.3" height="4.5" fill="#fff"/></g>
<circle cx="530.5" cy="88.3" r="16.75" fill="#fff" stroke="#000" stroke-width="1.45"/><g transform="translate(530.7,95.0) scale(1.1,1)"><text class="cb" text-anchor="middle">10</text><rect x="-10.49" y="-3.45" width="3.74" height="4.5" fill="#fff"/><rect x="-3.25" y="-3.45" width="3.3" height="4.5" fill="#fff"/></g>
<circle cx="551.0" cy="133.4" r="16.75" fill="#fff" stroke="#000" stroke-width="1.45"/><g transform="translate(551.2,140.1) scale(1.1,1)"><text class="cb" text-anchor="middle">9</text></g>
<circle cx="633.2" cy="212.5" r="16.75" fill="#fff" stroke="#000" stroke-width="1.45"/><g transform="translate(633.4,219.2) scale(1.1,1)"><text class="cb" text-anchor="middle">12</text><rect x="-10.49" y="-3.45" width="3.74" height="4.5" fill="#fff"/><rect x="-3.25" y="-3.45" width="3.3" height="4.5" fill="#fff"/></g>
<circle cx="677.7" cy="212.5" r="16.75" fill="#fff" stroke="#000" stroke-width="1.45"/><g transform="translate(677.9,219.2) scale(1.1,1)"><text class="cb" text-anchor="middle">11</text><rect x="-10.49" y="-3.45" width="3.74" height="4.5" fill="#fff"/><rect x="-3.25" y="-3.45" width="3.3" height="4.5" fill="#fff"/><rect x="0.10" y="-3.45" width="3.74" height="4.5" fill="#fff"/><rect x="7.34" y="-3.45" width="3.3" height="4.5" fill="#fff"/></g>
<circle cx="509.6" cy="252.1" r="16.75" fill="#fff" stroke="#000" stroke-width="1.45"/><g transform="translate(509.8,258.8) scale(1.1,1)"><text class="cb" text-anchor="middle">12</text><rect x="-10.49" y="-3.45" width="3.74" height="4.5" fill="#fff"/><rect x="-3.25" y="-3.45" width="3.3" height="4.5" fill="#fff"/></g>
<circle cx="619.2" cy="413.6" r="16.75" fill="#fff" stroke="#000" stroke-width="1.45"/><g transform="translate(619.4,420.3) scale(1.1,1)"><text class="cb" text-anchor="middle">7</text></g>
<circle cx="657.2" cy="413.6" r="16.75" fill="#fff" stroke="#000" stroke-width="1.45"/><g transform="translate(657.4,420.3) scale(1.1,1)"><text class="cb" text-anchor="middle">6</text></g>
<circle cx="436.3" cy="407.7" r="16.75" fill="#fff" stroke="#000" stroke-width="1.45"/><g transform="translate(436.5,414.4) scale(1.1,1)"><text class="cb" text-anchor="middle">11</text><rect x="-10.49" y="-3.45" width="3.74" height="4.5" fill="#fff"/><rect x="-3.25" y="-3.45" width="3.3" height="4.5" fill="#fff"/><rect x="0.10" y="-3.45" width="3.74" height="4.5" fill="#fff"/><rect x="7.34" y="-3.45" width="3.3" height="4.5" fill="#fff"/></g>
<circle cx="592.7" cy="537.5" r="16.75" fill="#fff" stroke="#000" stroke-width="1.45"/><g transform="translate(592.9,544.2) scale(1.1,1)"><text class="cb" text-anchor="middle">8</text></g>
<g transform="translate(125.2,64.2) scale(1.1,1)"><text class="cb" text-anchor="middle">3</text></g>
<g transform="translate(97.2,251.7) scale(1.1,1)"><text class="cb" text-anchor="middle">5</text></g>
<g transform="translate(308.2,250.4) scale(1.1,1)"><text class="cb" text-anchor="middle">1</text><rect x="-5.20" y="-3.45" width="3.74" height="4.5" fill="#fff"/><rect x="2.04" y="-3.45" width="3.3" height="4.5" fill="#fff"/></g>
<g transform="translate(508.7,365.2) scale(1.1,1)"><text class="cb" text-anchor="middle">2</text></g>
<g transform="translate(508.7,479.0) scale(1.1,1)"><text class="cb" text-anchor="middle">4</text></g>
<g id="legend">
<rect x="721.7" y="154.4" width="70.2" height="384.2" fill="#fff" stroke="#3a3a3a" stroke-width="1"/>
<g stroke="#3a3a3a" stroke-width="1">
<line x1="721.7" y1="202.4" x2="791.9" y2="202.4"/><line x1="721.7" y1="250.4" x2="791.9" y2="250.4"/><line x1="721.7" y1="298.4" x2="791.9" y2="298.4"/><line x1="721.7" y1="346.4" x2="791.9" y2="346.4"/><line x1="721.7" y1="394.4" x2="791.9" y2="394.4"/><line x1="721.7" y1="442.4" x2="791.9" y2="442.4"/><line x1="721.7" y1="490.5" x2="791.9" y2="490.5"/>
</g>
<!-- icon 12 : fitting -->
<g id="fit12">
<rect x="761" y="187.2" width="15.3" height="10.8" fill="url(#gMetalH)"/>
<ellipse cx="768.65" cy="198.0" rx="7.65" ry="2.3" fill="#8e8e8e"/>
<ellipse cx="768.65" cy="197.3" rx="7.65" ry="2.3" fill="url(#gMetalH)" opacity="0.75"/>
<path d="M761,192.3 C764,193.9 773.3,193.9 776.3,192.3" fill="none" stroke="#6e6e6e" stroke-width="1.1" opacity="0.85"/>
<path d="M761,193.6 C764,195.2 773.3,195.2 776.3,193.6" fill="none" stroke="#e0e0e0" stroke-width="0.8" opacity="0.8"/>
<path d="M757.1,174.1 L760.6,169.9 L776.4,169.9 L779.3,174.1 L779.3,186.1 L776.6,188.3 L760.2,188.3 L757.1,186.1 Z" fill="url(#gMetalH)"/>
<path d="M757.1,174.1 L760.6,169.9 L776.4,169.9 L779.3,174.1 C774,176.1 762,176.1 757.1,174.1 Z" fill="#d6d6d6" opacity="0.75"/>
<path d="M762.6,175.3 V188.1 M774.2,175.3 V188.1" stroke="#7a7a7a" stroke-width="0.8" fill="none" opacity="0.8"/>
<path d="M757.1,174.3 L757.1,186.1 L760.2,188.3 L762.6,188.3 L762.6,175.5 Z" fill="#6a6a6a" opacity="0.45"/>
<rect x="760.4" y="166.2" width="16.2" height="4.5" fill="url(#gMetalH2)"/>
<path d="M760.4,166.8 C764,168.4 773,168.4 776.6,166.8 L776.6,169.0 C773,170.6 764,170.6 760.4,169.0 Z" fill="#f2f2f2" opacity="0.9"/>
<rect x="762" y="159.4" width="13.3" height="7.8" fill="url(#gMetalH)"/>
<path d="M762,162.6 C765,164.2 772.3,164.2 775.3,162.6" fill="none" stroke="#6c6c6c" stroke-width="0.9" opacity="0.8"/>
<ellipse cx="768.65" cy="159.6" rx="6.65" ry="2.7" fill="#9c9c9c"/>
<ellipse cx="768.65" cy="159.7" rx="5.4" ry="2.1" fill="#5e5e5e"/>
<ellipse cx="768.4" cy="160.5" rx="3.6" ry="1.5" fill="#f0f0f0"/>
</g>
<!-- icon 11 : fitting with o-ring -->
<g id="fit11">
<rect x="761" y="239.0" width="15.3" height="9.5" fill="url(#gMetalH)"/>
<ellipse cx="768.65" cy="248.5" rx="7.65" ry="2.3" fill="#8e8e8e"/>
<ellipse cx="768.65" cy="247.8" rx="7.65" ry="2.3" fill="url(#gMetalH)" opacity="0.75"/>
<path d="M761,243.6 C764,245.2 773.3,245.2 776.3,243.6" fill="none" stroke="#6e6e6e" stroke-width="1.1" opacity="0.85"/>
<path d="M761,244.8 C764,246.4 773.3,246.4 776.3,244.8" fill="none" stroke="#e0e0e0" stroke-width="0.8" opacity="0.8"/>
<path d="M757.1,225.0 L760.6,220.8 L776.4,220.8 L779.3,225.0 L779.3,237.9 L776.6,240.1 L760.2,240.1 L757.1,237.9 Z" fill="url(#gMetalH)"/>
<path d="M757.1,225.0 L760.6,220.8 L776.4,220.8 L779.3,225.0 C774,227.0 762,227.0 757.1,225.0 Z" fill="#d6d6d6" opacity="0.75"/>
<path d="M762.6,226.2 V239.9 M774.2,226.2 V239.9" stroke="#7a7a7a" stroke-width="0.8" fill="none" opacity="0.8"/>
<path d="M757.1,225.2 L757.1,237.9 L760.2,240.1 L762.6,240.1 L762.6,226.4 Z" fill="#6a6a6a" opacity="0.45"/>
<path d="M758,223.0 C762,225.8 775,225.8 778.6,223.0" fill="none" stroke="#3e3e3e" stroke-width="2"/>
<rect x="760.4" y="214.2" width="16.2" height="7.9" fill="url(#gMetalH2)"/>
<path d="M760.4,214.8 C764,216.4 773,216.4 776.6,214.8 L776.6,217.0 C773,218.6 764,218.6 760.4,217.0 Z" fill="#f2f2f2" opacity="0.9"/>
<rect x="762" y="207.4" width="13.3" height="7.8" fill="url(#gMetalH)"/>
<path d="M762,210.6 C765,212.2 772.3,212.2 775.3,210.6" fill="none" stroke="#6c6c6c" stroke-width="0.9" opacity="0.8"/>
<ellipse cx="768.65" cy="207.6" rx="6.65" ry="2.7" fill="#9c9c9c"/>
<ellipse cx="768.65" cy="207.7" rx="5.4" ry="2.1" fill="#5e5e5e"/>
<ellipse cx="768.4" cy="208.5" rx="3.6" ry="1.5" fill="#f0f0f0"/>
</g>
<!-- icon 10 : cap with tab -->
<g id="ic10">
<path d="M776.5,271 L786,269.6 L789.6,271.2 L789.6,288 L786,290.4 L776.5,290.4 Z" fill="#b0b0b0"/>
<path d="M784,269.9 L786,269.6 L786,290.4 L784,290.4 Z" fill="#6e6e6e"/>
<path d="M786,269.6 L789.6,271.2 L789.6,288 L786,290.4 Z" fill="#8e8e8e"/>
<path d="M754.5,279 C752.6,280.4 751.8,281.6 751.8,283.5 L751.8,292.6 C751.8,298.6 777.5,298.6 777.5,292.6 L777.5,283.5 C777.5,281.6 776.6,280.4 774.8,279 Z" fill="url(#gMetalH)"/>
<path d="M751.9,291.6 C753.4,296.8 776,296.8 777.4,291.6 L777.5,292.6 C777.5,298.6 751.8,298.6 751.8,292.6 Z" fill="#848484" opacity="0.75"/>
<path d="M754.5,279 C752.6,280.4 751.8,281.6 751.8,283.2 C755,287 774.4,287 777.5,283.2 C777.5,281.6 776.6,280.4 774.8,279 Z" fill="#d4d4d4" opacity="0.6"/>
<path d="M751.8,283.6 C755,287.4 774.4,287.4 777.5,283.6" fill="none" stroke="#ececec" stroke-width="0.9" opacity="0.9"/>
<path d="M753.9,257.6 L753.9,274.8 C753.9,280 775.5,280 775.5,274.8 L775.5,257.6 Z" fill="url(#gMetalH)"/>
<path d="M753.9,273.2 C756.5,278.4 773,278.4 775.5,273.2 L775.5,274.8 C775.5,280 753.9,280 753.9,274.8 Z" fill="#767676" opacity="0.8"/>
<ellipse cx="764.7" cy="257.6" rx="10.8" ry="4.1" fill="#b2b2b2"/>
<path d="M758.9,254 L758.9,258.2 C758.9,261 770.5,261 770.5,258.2 L770.5,254 Z" fill="url(#gMetalH2)"/>
<ellipse cx="764.7" cy="254" rx="5.8" ry="2.2" fill="#cfcfcf"/>
<ellipse cx="764.9" cy="254.2" rx="3.5" ry="1.3" fill="#7c7c7c"/>
</g>
<!-- icon 9 : ring clip -->
<g id="ic9">
<path d="M762,303.6 L771.4,300.4 L776.7,303.2 L776.7,307 L768.4,310.2 L762,307.4 Z" fill="#cdcdcd"/>
<path d="M762,303.6 L768.4,306.4 L776.7,303.2 L776.7,307 L768.4,310.2 L762,307.4 Z" fill="#a0a0a0"/>
<ellipse cx="766.5" cy="320.6" rx="8.9" ry="12.4" fill="none" stroke="#a6a6a6" stroke-width="4.6"/>
<path d="M756.3,327.5 C754.7,318 757.6,310.4 763,306.6" fill="none" stroke="#dcdcdc" stroke-width="2"/>
<path d="M776.7,327.5 C778.4,318 776,310.4 771.2,306.8" fill="none" stroke="#808080" stroke-width="1.8"/>
<path d="M761,322.6 L771.6,320.6 L774.6,323.4 L774.6,330 L763.4,332.6 L761,330 Z" fill="#747474"/>
<path d="M761,322.6 L771.6,320.6 L774.6,323.4 L763.6,325.6 Z" fill="#b2b2b2"/>
<ellipse cx="766.9" cy="335.9" rx="11.6" ry="3.7" fill="#929292"/>
<ellipse cx="766.9" cy="334.5" rx="11.6" ry="3.2" fill="#cdcdcd"/>
<path d="M758.5,330.6 C761,333.4 764,334 767,333.6" fill="none" stroke="#a6a6a6" stroke-width="3.4"/>
<rect x="763" y="339" width="6.9" height="4.6" fill="#5e5e5e"/>
<path d="M763,340.4 h6.9 M763,342.2 h6.9" stroke="#333" stroke-width="0.6"/>
</g>
<!-- icon 8 : block clip -->
<g id="ic8">
<path d="M761.8,355.7 L777.9,367.3 C770.7,368.7 764.5,372.7 761.8,378 C760.8,382 762,387 765.4,391 L744,379.8 C742,377.5 742,374.5 743,372.7 C745,367.5 752,360.5 761.8,355.7 Z" fill="url(#gBlk)"/>
<path d="M761.8,355.7 L769.4,349.3 L786.6,359.3 L777.9,367.3 Z" fill="#adadad"/>
<path d="M761.8,355.7 L769.4,349.3" stroke="#bcbcbc" stroke-width="0.8" fill="none"/>
<path d="M777.9,367.3 L786.6,359.3 L786.4,380.3 L765.4,391 C762,387 760.8,382 761.8,378 C764.5,372.7 770.7,368.7 777.9,367.3 Z" fill="#8e8e8e"/>
<path d="M778.3,366.8 L785.3,360.6 L785.3,378.6 L778.3,382 Z" fill="#5c5c5c"/>
<path d="M779.6,368.2 L784.2,364.2 L784.2,376.6 L779.6,379.2 Z" fill="#9c9c9c"/>
<path d="M779.6,376.8 L784.2,374.4 L784.2,376.6 L779.6,379.2 Z" fill="#c0c0c0"/>
<path d="M776.5,371 C769.5,371.5 764.8,376.5 765,383 C765.2,386 766.5,388.5 768,389.6" fill="none" stroke="#5a5a5a" stroke-width="1.5"/>
<path d="M776.5,374.5 C771.5,375 768.3,378.8 768.8,383.5 C769,385.5 769.8,387 771,388" fill="none" stroke="#c4c4c4" stroke-width="1.6"/>
<path d="M775.5,377.5 C772.5,378.2 771,380.5 771.5,383.5 L773,387 L776,385.5 C774.5,382.5 775,380 777,378.5 Z" fill="#555"/>
<path d="M772.5,380.5 L769,389.3" stroke="#4e4e4e" stroke-width="1" fill="none"/>
<ellipse cx="771.7" cy="356.3" rx="6.9" ry="4.2" fill="#8a8a8a"/>
<ellipse cx="771.7" cy="356.1" rx="6" ry="3.6" fill="url(#gHole)"/>
<ellipse cx="772.3" cy="358.2" rx="3" ry="1.5" fill="#505050"/>
</g>
<!-- icon 7 : double block clip -->
<g id="ic7">
<path d="M768,400.6 L777,401.5 L786.6,410 L786.6,416.2 L781.4,425.1 L770.7,432.3 L760,439.4 L754.6,437.6 L740.4,432.3 C738.3,430.5 737.8,426 738.6,422.5 C739.8,419 743,415.8 746.6,413.4 Z" fill="#9a9a9a"/>
<path d="M746.6,413.4 L764.5,420.7 C759.5,422.5 756.3,426 755.8,430.5 C755.6,433.5 757,437 760,439.4 L754.6,437.6 L740.4,432.3 C738.3,430.5 737.8,426 738.6,422.5 C739.8,419 743,415.8 746.6,413.4 Z" fill="url(#gBlk7)"/>
<path d="M746.6,413.4 L768,400.6 L777,401.5 L786.6,410 L764.5,420.7 Z" fill="#aeaeae"/>
<path d="M746.6,413.4 L768,400.6" stroke="#c2c2c2" stroke-width="0.8" fill="none"/>
<path d="M764.5,420.7 L786.6,410 L786.6,416.2 L781.4,425.1 L770.7,432.3 L760,439.4 C757,437 755.6,433.5 755.8,430.5 C756.3,426 759.5,422.5 764.5,420.7 Z" fill="#8c8c8c"/>
<path d="M768.3,421.3 L770.6,420.2 L770.6,431.5 L768.3,433 Z" fill="#4a4a4a"/>
<path d="M766.3,424.6 C761.5,425.4 758.8,428.8 759,433 C759.1,435 759.8,436.6 761,437.8" fill="none" stroke="#555" stroke-width="1.4"/>
<path d="M766.5,427.6 C763.5,428.2 761.8,430.4 762,433.4 C762.1,434.8 762.6,436 763.4,436.8" fill="none" stroke="#c2c2c2" stroke-width="1.4"/>
<path d="M765.8,430.3 C764.3,431 763.8,432.4 764.2,434.2 L765.2,436.2 L767.2,435 C766.4,433.2 766.6,431.8 767.6,430.8 Z" fill="#505050"/>
<path d="M784.6,414.5 C779,413.3 774.3,416 773.6,421 C773.3,423.4 774,425.6 775.3,427.2" fill="none" stroke="#555" stroke-width="1.5"/>
<path d="M784.6,417.6 C780.6,416.8 777.3,418.6 776.8,422 C776.6,423.6 777,425 777.8,426" fill="none" stroke="#c6c6c6" stroke-width="1.5"/>
<path d="M783.8,420.2 C781.4,420 779.8,421 779.4,423 L780,425.4 L782.4,424 C782.2,422.8 782.8,422 784.2,421.8 L786.6,420.6 L786.6,418 Z" fill="#585858"/>
<path d="M740.6,429.3 L745.4,431 L745.4,437 L740.6,435.8 Z" fill="#9a9a9a"/>
<ellipse cx="740.6" cy="432.6" rx="2.9" ry="3.3" fill="#c2c2c2"/>
<ellipse cx="761" cy="409.8" rx="6.2" ry="3.8" fill="#8a8a8a"/>
<ellipse cx="761" cy="409.6" rx="5.3" ry="3.2" fill="url(#gHole)"/>
<ellipse cx="761.6" cy="411.4" rx="2.6" ry="1.3" fill="#565656"/>
</g>
<!-- icon 6 : grommet -->
<g id="ic6">
<path d="M756.5,472 L756.5,484 L760,486.5 L763,488.5 L763,478 L771,478 L771,482 L776.5,479 L776.5,470 Z" fill="#3d3d3d"/>
<path d="M763,478 L771,478 L771,482 L763,486 Z" fill="#fff"/>
<ellipse cx="767" cy="462.5" rx="22.9" ry="14.3" fill="#3c3c3c"/>
<ellipse cx="767" cy="460.8" rx="21.5" ry="12.6" fill="#4a4a4a"/>
<ellipse cx="767.5" cy="456.8" rx="11.6" ry="6.6" fill="#5e5e5e"/>
<ellipse cx="767.5" cy="457.4" rx="10.6" ry="5.8" fill="#262626"/>
<path d="M757.5,459.5 C761,463.5 774,463.5 777.5,459.5 C775,462 760,462 757.5,459.5 Z" fill="#3a3a3a"/>
<ellipse cx="767.5" cy="459.6" rx="8" ry="3.2" fill="#383838"/>
</g>
<!-- arrow -->
<g id="arrow">
<path d="M727.6,528.3 H765.9 V533.9 H727.6 Z" fill="#000"/>
<path d="M787,505.8 L787,511.3 L761.9,525.7 L756.6,522.4 Z" fill="#000"/>
<path d="M727.6,506.5 L736.8,511.8 L767.6,494.6 L787,505.8 L756.6,522.4 L765.9,528.3 L727.6,528.3 Z" fill="#fff" stroke="#000" stroke-width="1" stroke-linejoin="miter"/>
</g>
<g transform="translate(724.2,172.3) scale(1.08,1)"><text class="lg">12</text><rect x="0.10" y="-3.45" width="3.74" height="4.5" fill="#fff"/><rect x="7.34" y="-3.45" width="3.3" height="4.5" fill="#fff"/></g>
<g transform="translate(724.2,220.3) scale(1.08,1)"><text class="lg">11</text><rect x="0.10" y="-3.45" width="3.74" height="4.5" fill="#fff"/><rect x="7.34" y="-3.45" width="3.3" height="4.5" fill="#fff"/><rect x="10.69" y="-3.45" width="3.74" height="4.5" fill="#fff"/><rect x="17.93" y="-3.45" width="3.3" height="4.5" fill="#fff"/></g>
<g transform="translate(724.2,268.3) scale(1.08,1)"><text class="lg">10</text><rect x="0.10" y="-3.45" width="3.74" height="4.5" fill="#fff"/><rect x="7.34" y="-3.45" width="3.3" height="4.5" fill="#fff"/></g>
<g transform="translate(729.5,316.3) scale(1.08,1)"><text class="lg">9</text></g>
<g transform="translate(729.5,364.3) scale(1.08,1)"><text class="lg">8</text></g>
<g transform="translate(729.5,412.3) scale(1.08,1)"><text class="lg">7</text></g>
<g transform="translate(729.5,460.3) scale(1.08,1)"><text class="lg">6</text></g>
<text x="760.1" y="552.4" class="num" text-anchor="middle">152482</text>
</g>
</g>
</svg>
</body></html>
